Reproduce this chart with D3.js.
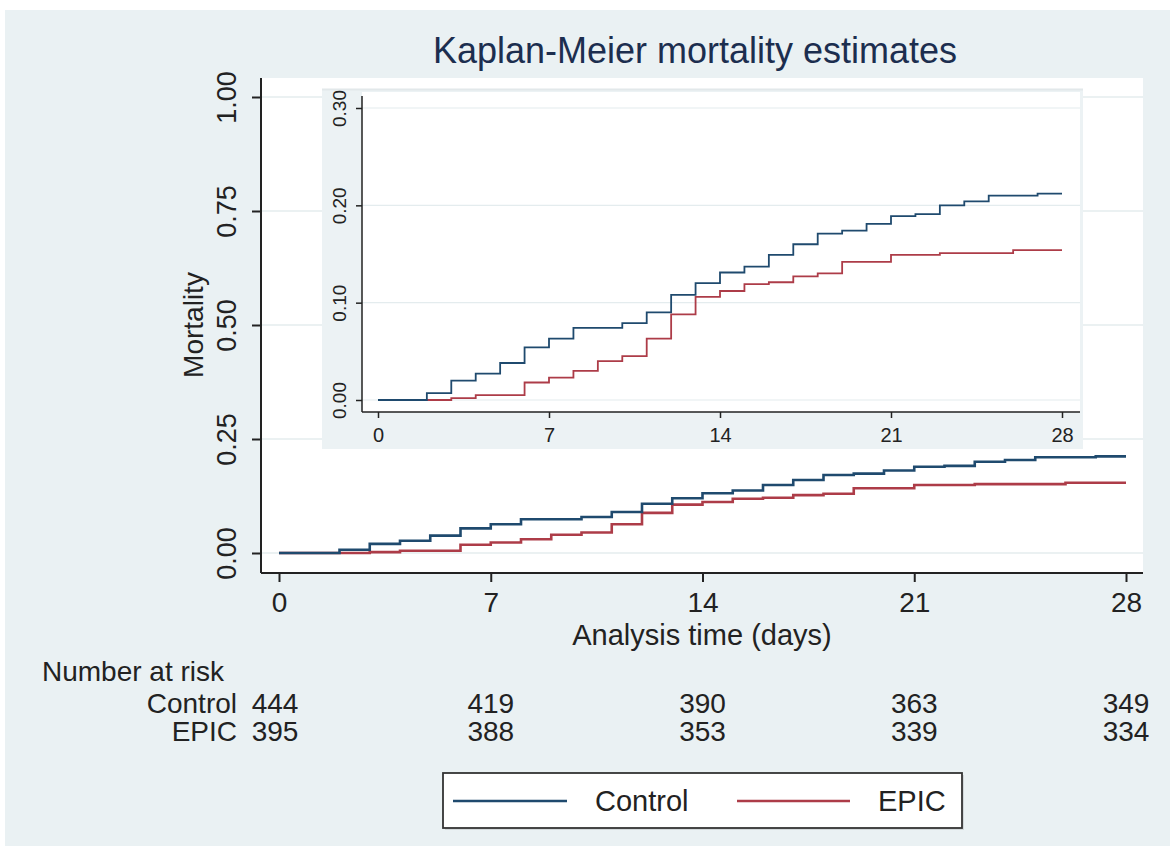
<!DOCTYPE html>
<html>
<head>
<meta charset="utf-8">
<script src="https://cdn.jsdelivr.net/npm/d3@7"></script>
<style>
  html, body { margin: 0; padding: 0; background: #ffffff; }
  svg { display: block; font-family: "Liberation Sans", Arial, sans-serif; }
</style>
</head>
<body>
<svg id="chart" width="1170" height="850"></svg>
<script>
// ---- Data ----
const controlTimes = [0, 2, 3, 4, 5, 6, 7, 8, 10, 11, 12, 13, 14, 15, 16, 17, 18, 19, 20, 21, 22, 23, 24, 25, 27, 28];
const controlMort  = [0, 0.007, 0.020, 0.027, 0.038, 0.054, 0.063, 0.074, 0.079, 0.090, 0.108, 0.120, 0.131, 0.137, 0.149, 0.160, 0.171, 0.174, 0.181, 0.189, 0.191, 0.200, 0.204, 0.210, 0.212, 0.212];
const epicTimes    = [0, 3, 4, 6, 7, 8, 9, 10, 11, 12, 13, 14, 15, 16, 17, 18, 19, 21, 23, 26, 28];
const epicMort     = [0, 0.002, 0.005, 0.018, 0.023, 0.030, 0.040, 0.045, 0.063, 0.088, 0.106, 0.112, 0.119, 0.121, 0.127, 0.130, 0.142, 0.149, 0.151, 0.154, 0.154];
const xTicks = [0, 7, 14, 21, 28];
const yTicksMain = [0, 0.25, 0.5, 0.75, 1.0];
const yTicksInset = [0, 0.1, 0.2, 0.3];
const riskGroups = ["Control", "EPIC"];
const riskControl = [444, 419, 390, 363, 349];
const riskEpic = [395, 388, 353, 339, 334];
const seriesNames = ["Control", "EPIC"];
const seriesColors = ["#1f4a6e", "#ad3c48"];

const svg = d3.select("#chart");
const bg = "#eaf1f3";
const grid = "#e4ecee";
const ink = "#222222";

// panel
svg.append("rect").attr("x", 5).attr("y", 10).attr("width", 1165).attr("height", 836).attr("fill", bg);

// title
svg.append("text").attr("x", 695).attr("y", 63).attr("text-anchor", "middle")
  .attr("font-size", 36).attr("fill", "#1c2e4f").text("Kaplan-Meier mortality estimates");

// ---- Main plot ----
const x = d3.scaleLinear().domain([0, 28]).range([279, 1126]);
const y = d3.scaleLinear().domain([0, 1]).range([553, 97]);
const plotL = 261, plotR = 1143, plotT = 78, plotB = 573;

svg.append("rect").attr("x", plotL).attr("y", plotT).attr("width", plotR - plotL).attr("height", plotB - plotT).attr("fill", "#ffffff");

svg.append("g").selectAll("line").data(yTicksMain).join("line")
  .attr("x1", plotL).attr("x2", plotR).attr("y1", d => y(d)).attr("y2", d => y(d))
  .attr("stroke", grid).attr("stroke-width", 1.5);

const seriesData = [
  controlTimes.map((t, i) => [t, controlMort[i]]),
  epicTimes.map((t, i) => [t, epicMort[i]])
];

const lineMain = d3.line().x(d => x(d[0])).y(d => y(d[1])).curve(d3.curveStepAfter);
seriesData.slice().reverse().forEach((s, i) => {
  const idx = seriesData.length - 1 - i;
  svg.append("path").attr("d", lineMain(s)).attr("fill", "none")
    .attr("stroke", seriesColors[idx]).attr("stroke-width", 2.6);
});

// main x axis
const gx = svg.append("g").attr("transform", `translate(0,${plotB})`)
  .call(d3.axisBottom(x).tickValues(xTicks).tickSize(9).tickSizeOuter(0).tickFormat(d3.format("d")));
gx.select(".domain").attr("d", `M${plotL},0H${plotR}`).attr("stroke", ink).attr("stroke-width", 2);
gx.selectAll(".tick line").attr("stroke", ink).attr("stroke-width", 2);
gx.selectAll(".tick text").attr("font-size", 28).attr("fill", ink).attr("font-family", "Liberation Sans, Arial, sans-serif")
  .attr("y", 39).attr("dy", 0);

// main y axis
const gy = svg.append("g").attr("transform", `translate(${plotL},0)`)
  .call(d3.axisLeft(y).tickValues(yTicksMain).tickSize(9).tickSizeOuter(0).tickFormat(d3.format(".2f")));
gy.select(".domain").attr("d", `M0,${plotT}V${plotB}`).attr("stroke", ink).attr("stroke-width", 2);
gy.selectAll(".tick line").attr("stroke", ink).attr("stroke-width", 2);
gy.selectAll(".tick text").attr("font-size", 27).attr("fill", ink).attr("font-family", "Liberation Sans, Arial, sans-serif")
  .attr("x", 0).attr("y", -25).attr("dy", 0).attr("text-anchor", "middle").attr("transform", "rotate(-90)");

// axis titles
svg.append("text").attr("transform", `translate(203,${y(0.5)}) rotate(-90)`).attr("text-anchor", "middle")
  .attr("font-size", 28).attr("fill", ink).text("Mortality");
svg.append("text").attr("x", 702).attr("y", 645).attr("text-anchor", "middle")
  .attr("font-size", 29).attr("fill", ink).text("Analysis time (days)");

// ---- Inset ----
const ix = d3.scaleLinear().domain([0, 28]).range([378, 1062]);
const iy = d3.scaleLinear().domain([0, 0.3]).range([400, 108]);
const iL = 362, iR = 1080, iT = 92, iB = 412;

svg.append("rect").attr("x", 322).attr("y", 89).attr("width", 761).attr("height", 360).attr("fill", "#ecf2f4");
svg.append("line").attr("x1", 322).attr("x2", 1083).attr("y1", 89.5).attr("y2", 89.5).attr("stroke", "#e2e8ea").attr("stroke-width", 2);
svg.append("rect").attr("x", iL).attr("y", iT).attr("width", iR - iL).attr("height", iB - iT).attr("fill", "#ffffff");

svg.append("g").selectAll("line").data(yTicksInset).join("line")
  .attr("x1", iL).attr("x2", iR).attr("y1", d => iy(d)).attr("y2", d => iy(d))
  .attr("stroke", grid).attr("stroke-width", 1.2);

const lineInset = d3.line().x(d => ix(d[0])).y(d => iy(d[1])).curve(d3.curveStepAfter);
seriesData.slice().reverse().forEach((s, i) => {
  const idx = seriesData.length - 1 - i;
  svg.append("path").attr("d", lineInset(s)).attr("fill", "none")
    .attr("stroke", seriesColors[idx]).attr("stroke-width", 1.8);
});

const igx = svg.append("g").attr("transform", `translate(0,${iB})`)
  .call(d3.axisBottom(ix).tickValues(xTicks).tickSize(6).tickSizeOuter(0).tickFormat(d3.format("d")));
igx.select(".domain").attr("d", `M${iL},0H${iR}`).attr("stroke", ink).attr("stroke-width", 1.5);
igx.selectAll(".tick line").attr("stroke", ink).attr("stroke-width", 1.5);
igx.selectAll(".tick text").attr("font-size", 20).attr("fill", ink).attr("font-family", "Liberation Sans, Arial, sans-serif")
  .attr("y", 30).attr("dy", 0);

const igy = svg.append("g").attr("transform", `translate(${iL},0)`)
  .call(d3.axisLeft(iy).tickValues(yTicksInset).tickSize(6).tickSizeOuter(0).tickFormat(d3.format(".2f")));
igy.select(".domain").attr("d", `M0,${iT + 4}V${iB}`).attr("stroke", ink).attr("stroke-width", 1.5);
igy.selectAll(".tick line").attr("stroke", ink).attr("stroke-width", 1.5);
igy.selectAll(".tick text").attr("font-size", 19).attr("fill", ink).attr("font-family", "Liberation Sans, Arial, sans-serif")
  .attr("x", 0).attr("y", -16).attr("dy", 0).attr("text-anchor", "middle").attr("transform", "rotate(-90)");

// ---- Number at risk ----
svg.append("text").attr("x", 42).attr("y", 681).attr("font-size", 28).attr("fill", ink).text("Number at risk");
const riskRows = [riskControl, riskEpic];
const rowY = [713, 741];
riskGroups.forEach((g, gi) => {
  svg.append("text").attr("x", 237).attr("y", rowY[gi]).attr("text-anchor", "end")
    .attr("font-size", 28).attr("fill", ink).text(g);
  svg.append("g").selectAll("text").data(riskRows[gi]).join("text")
    .attr("x", (d, i) => x(xTicks[i]) - (i === 0 ? 4 : 0)).attr("y", rowY[gi]).attr("text-anchor", "middle")
    .attr("font-size", 28).attr("fill", ink).text(d => d);
});

// ---- Legend ----
const leg = svg.append("g");
leg.append("rect").attr("x", 445).attr("y", 775).attr("width", 519).attr("height", 55).attr("fill", "#d2d8da");
leg.append("rect").attr("x", 443).attr("y", 773).attr("width", 519).attr("height", 55)
  .attr("fill", "#ffffff").attr("stroke", "#333333").attr("stroke-width", 1.8);
const legItems = [{x1: 453, x2: 567, tx: 595}, {x1: 737, x2: 850, tx: 878}];
legItems.forEach((it, i) => {
  leg.append("line").attr("x1", it.x1).attr("x2", it.x2).attr("y1", 801).attr("y2", 801)
    .attr("stroke", seriesColors[i]).attr("stroke-width", 2.6);
  leg.append("text").attr("x", it.tx).attr("y", 811).attr("font-size", 29).attr("fill", ink).text(seriesNames[i]);
});
</script>
</body>
</html>
